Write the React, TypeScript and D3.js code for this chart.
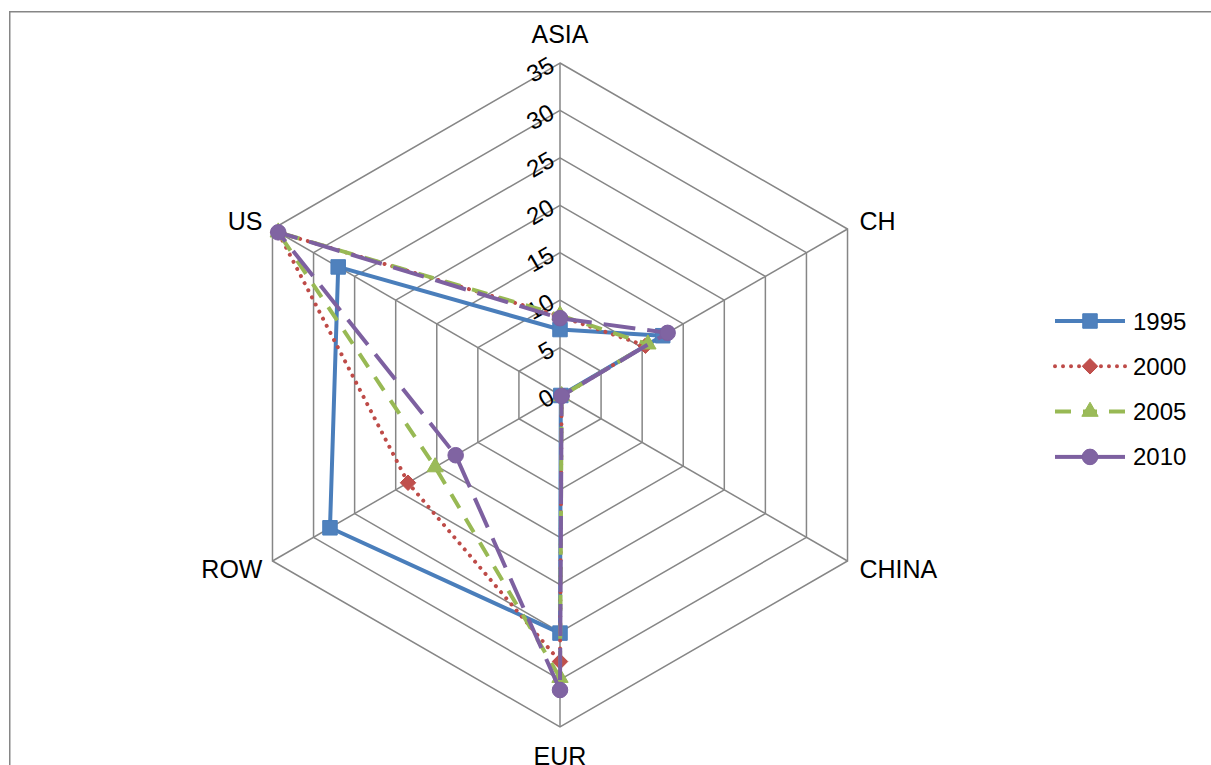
import React from "react";
import * as d3 from "d3";

const categories = ["ASIA", "CH", "CHINA", "EUR", "ROW", "US"];
const years = ["1995", "2000", "2005", "2010"];
const values1995 = [6.9, 12.5, 0.1, 25.1, 28.0, 27.0];
const values2000 = [8.3, 10.4, 0.2, 28.1, 18.5, 34.3];
const values2005 = [8.4, 10.7, 0.2, 29.8, 15.2, 34.3];
const values2010 = [8.1, 13.1, 0.2, 31.1, 12.7, 34.3];
const tickValues = [0, 5, 10, 15, 20, 25, 30, 35];

const seriesValues = [values1995, values2000, values2005, values2010];
const colors = ["#4a7ebb", "#be4b48", "#98b954", "#7d60a0"];
const fills = ["#4f81bd", "#c0504d", "#9bbb59", "#8064a2"];
const dashes = ["none", "0.01 8", "16 12", "32 12"];

const diamondType = {
  draw(context: any, size: number) {
    const h = Math.sqrt(size / 2);
    context.moveTo(0, -h);
    context.lineTo(h, 0);
    context.lineTo(0, h);
    context.lineTo(-h, 0);
    context.closePath();
  },
};
const markerTypes: any[] = [d3.symbolSquare, diamondType, d3.symbolTriangle, d3.symbolCircle];
const markerSizes = [210, 120, 115, 190];

const W = 1211;
const H = 765;
const cx = 560;
const cy = 395;
const R = 332;
const FONT = "'Liberation Sans', Arial, sans-serif";

export default function App() {
  const r = d3.scaleLinear().domain([0, 35]).range([0, R]);
  const ang = (i: number) => (i * 2 * Math.PI) / categories.length;
  const pt = (i: number, v: number): [number, number] => [
    cx + r(v) * Math.sin(ang(i)),
    cy - r(v) * Math.cos(ang(i)),
  ];
  const closedLine = d3
    .line<[number, number]>()
    .x((d) => d[0])
    .y((d) => d[1])
    .curve(d3.curveLinearClosed);

  const gridColor = "#868686";

  return (
    <svg
      width={W}
      height={H}
      style={{ position: "absolute", left: 0, top: 0, background: "#fff" }}
      fontFamily={FONT}
    >
      <rect x={9.75} y={11.75} width={1260} height={800} fill="#fff" stroke={gridColor} strokeWidth={1.5} />
      {tickValues.slice(1).map((t) => (
        <path
          key={"ring" + t}
          d={closedLine(categories.map((_, i) => pt(i, t))) || ""}
          fill="none"
          stroke={gridColor}
          strokeWidth={1.5}
        />
      ))}
      {categories.map((c, i) => {
        const [x, y] = pt(i, 35);
        return <line key={"sp" + c} x1={cx} y1={cy} x2={x} y2={y} stroke={gridColor} strokeWidth={1.5} />;
      })}
      {tickValues.map((t) => {
        const ty = cy - r(t);
        const x = 556;
        const y = ty + 7;
        return (
          <text
            key={"tk" + t}
            x={x}
            y={y}
            textAnchor="end"
            fontSize={24}
            transform={`rotate(-30, ${x}, ${y})`}
            fill="#000"
          >
            {t}
          </text>
        );
      })}
      {categories.map((c, i) => {
        const a = ang(i);
        const [vx, vy] = pt(i, 35);
        const s = Math.sin(a);
        const co = Math.cos(a);
        let anchor: "start" | "middle" | "end" = "middle";
        let x = vx;
        let yc = vy;
        if (s > 0.1) {
          anchor = "start";
          x = vx + 12;
          yc = vy - co * 16;
        } else if (s < -0.1) {
          anchor = "end";
          x = vx - 10;
          yc = vy - co * 16;
        } else {
          yc = vy - co * 29;
        }
        return (
          <text key={"cat" + c} x={x} y={yc + 9} textAnchor={anchor} fontSize={25} fill="#000">
            {c}
          </text>
        );
      })}
      {seriesValues.map((vals, si) => {
        const pts = vals.map((v, i) => pt(i, v));
        const sym = d3.symbol().type(markerTypes[si]).size(markerSizes[si]);
        return (
          <g key={"s" + si}>
            <path
              d={closedLine(pts) || ""}
              fill="none"
              stroke={colors[si]}
              strokeWidth={4}
              strokeDasharray={dashes[si] === "none" ? undefined : dashes[si]}
              strokeLinecap={si === 1 ? "round" : "butt"}
              strokeLinejoin="round"
            />
            {pts.map((p, pi) => (
              <path
                key={"m" + pi}
                d={sym() || ""}
                transform={`translate(${p[0]},${p[1]})`}
                fill={fills[si]}
                stroke={colors[si]}
                strokeWidth={1}
              />
            ))}
          </g>
        );
      })}
      {years.map((yr, si) => {
        const ly = 321 + si * 45.3;
        const sym = d3.symbol().type(markerTypes[si]).size(markerSizes[si]);
        const dash = dashes[si] === "none" ? undefined : dashes[si];
        return (
          <g key={"lg" + yr}>
            <line
              x1={1055}
              y1={ly}
              x2={1090}
              y2={ly}
              stroke={colors[si]}
              strokeWidth={4}
              strokeDasharray={dash}
              strokeLinecap={si === 1 ? "round" : "butt"}
            />
            <line
              x1={1125}
              y1={ly}
              x2={1090}
              y2={ly}
              stroke={colors[si]}
              strokeWidth={4}
              strokeDasharray={dash}
              strokeLinecap={si === 1 ? "round" : "butt"}
            />
            <path
              d={sym() || ""}
              transform={`translate(1090,${ly})`}
              fill={fills[si]}
              stroke={colors[si]}
              strokeWidth={1}
            />
            <text x={1133} y={ly + 8.5} fontSize={24} fill="#000">
              {yr}
            </text>
          </g>
        );
      })}
    </svg>
  );
}
